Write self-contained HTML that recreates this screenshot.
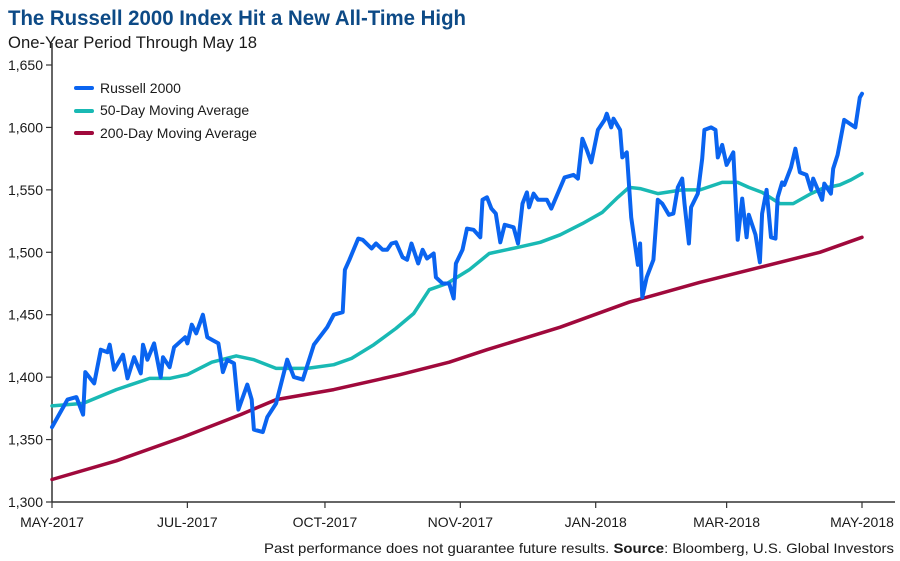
<!DOCTYPE html>
<html><head><meta charset="utf-8"><style>
body{margin:0;background:#fff;}
svg{display:block;font-family:"Liberation Sans",sans-serif;}
</style></head><body>
<svg id="chart" width="900" height="561" viewBox="0 0 900 561">
<text x="8" y="25" font-size="21" font-weight="bold" fill="#0d4a86" textLength="458" lengthAdjust="spacingAndGlyphs">The Russell 2000 Index Hit a New All-Time High</text>
<text x="8" y="48" font-size="17" fill="#1a1a1a" textLength="249" lengthAdjust="spacingAndGlyphs">One-Year Period Through May 18</text>
<g id="axes"></g>
<g id="series"></g>
<g>
<line x1="76" y1="88" x2="92" y2="88" stroke="#0a64f0" stroke-width="4" stroke-linecap="round"/>
<text x="100" y="93" font-size="14" fill="#1a1a1a">Russell 2000</text>
<line x1="76" y1="111" x2="92" y2="111" stroke="#19b9b4" stroke-width="4" stroke-linecap="round"/>
<text x="100" y="115" font-size="14" fill="#1a1a1a">50-Day Moving Average</text>
<line x1="76" y1="133" x2="92" y2="133" stroke="#a0093c" stroke-width="4" stroke-linecap="round"/>
<text x="100" y="138" font-size="14" fill="#1a1a1a">200-Day Moving Average</text>
</g>
<text x="264" y="553" font-size="14" fill="#1a1a1a" textLength="630" lengthAdjust="spacingAndGlyphs">Past performance does not guarantee future results.    <tspan font-weight="bold">Source</tspan>: Bloomberg, U.S. Global Investors</text>
</svg>
<script>
const russellDays=[0,7,11,14,15,19,22,25,26,28,32,34,37,40,41,43,46,49,50,53,55,60,61,63,65,68,70,75,77,79,82,84,88,90,91,95,97,101,106,109,113,118,124,127,131,132,134,138,140,144,146,149,151,153,155,158,160,162,165,167,169,172,173,176,179,181,182,185,187,190,193,194,196,198,200,202,204,208,210,212,214,215,217,219,223,225,231,235,237,239,241,243,246,249,250,252,253,256,257,259,261,264,265,266,268,271,273,275,278,280,282,284,285,287,288,291,293,294,297,299,300,302,304,307,309,311,313,314,317,319,320,322,324,326,327,329,330,333,335,337,340,342,343,347,348,351,352,354,357,362,364,365];
const russellValues=[1360,1382,1384,1370,1404,1395,1422,1420,1426,1406,1418,1399,1416,1403,1426,1414,1427,1400,1416,1408,1424,1432,1427,1442,1435,1450,1432,1427,1404,1414,1411,1374,1394,1382,1358,1356,1368,1379,1414,1400,1398,1426,1440,1450,1452,1486,1494,1511,1510,1503,1507,1502,1502,1507,1508,1496,1494,1507,1491,1502,1495,1499,1480,1475,1475,1463,1491,1502,1519,1518,1512,1542,1544,1535,1531,1508,1522,1520,1507,1539,1548,1536,1547,1542,1542,1535,1560,1562,1559,1591,1582,1572,1598,1606,1611,1600,1607,1598,1576,1580,1528,1490,1507,1464,1480,1494,1542,1539,1530,1531,1552,1559,1539,1507,1536,1547,1575,1598,1600,1598,1576,1586,1570,1580,1510,1543,1512,1530,1514,1492,1531,1550,1512,1511,1544,1556,1554,1568,1583,1564,1562,1550,1559,1542,1555,1547,1567,1578,1606,1600,1624,1627];
const ma50Days=[0,14,29,44,53,61,72,83,91,101,115,127,135,145,155,163,170,178,188,197,210,220,229,239,248,255,260,265,273,284,292,302,309,314,320,328,334,342,347,355,360,365];
const ma50Values=[1377,1379,1390,1399,1399,1402,1412,1417,1414,1407,1407,1410,1415,1426,1439,1451,1470,1475,1486,1499,1504,1508,1514,1523,1532,1544,1552,1551,1547,1550,1550,1556,1556,1552,1548,1539,1539,1547,1551,1554,1558,1563];
const ma200Days=[0,29,59,85,101,127,157,179,196,229,260,292,319,346,365];
const ma200Values=[1318,1333,1352,1370,1382,1390,1402,1412,1422,1440,1460,1476,1488,1500,1512];
const yTicks=[1300,1350,1400,1450,1500,1550,1600,1650];
const xTickDays=[0,61,123,184,245,304,365];
const xTickLabels=["MAY-2017","JUL-2017","OCT-2017","NOV-2017","JAN-2018","MAR-2018","MAY-2018"];

const NS="http://www.w3.org/2000/svg";
const X0=52,X1=862,Y0=502,Y1=65;
function xs(d){return X0+(d/365)*(X1-X0);}
function ys(v){return Y0-(v-1300)/(1650-1300)*(Y0-Y1);}
function mk(tag,attrs,parent){const e=document.createElementNS(NS,tag);for(const k in attrs)e.setAttribute(k,attrs[k]);parent.appendChild(e);return e;}
const axes=document.getElementById('axes');
const ax=mk('line',{x1:X0,y1:Y1-22,x2:X0,y2:Y0,stroke:'#333','stroke-width':1.5},axes);


const bx=mk('line',{x1:X0,y1:Y0,x2:895,y2:Y0,stroke:'#333','stroke-width':1.5},axes);


yTicks.forEach(v=>{
  const t=mk('line',{x1:X0-6,x2:X0,y1:ys(v),y2:ys(v),stroke:'#333','stroke-width':1.2},axes);
  
  
  const l=mk('text',{x:X0-9,y:ys(v)+5,'font-size':14,'text-anchor':'end',fill:'#1a1a1a'},axes);
  l.textContent=v.toLocaleString('en-US');
  
  
});
xTickDays.forEach((d,i)=>{
  const t=mk('line',{x1:xs(d),x2:xs(d),y1:Y0,y2:Y0+6,stroke:'#333','stroke-width':1.2},axes);
  
  
  const l=mk('text',{x:xs(d),y:Y0+25,'font-size':14,'text-anchor':'middle',fill:'#1a1a1a'},axes);
  l.textContent=xTickLabels[i];
  
  
});
const ser=document.getElementById('series');
function line(days,vals,color,w){
  const d=days.map((t,i)=>(i?'L':'M')+xs(t).toFixed(1)+','+ys(vals[i]).toFixed(1)).join('');
  return mk('path',{d:d,fill:'none',stroke:color,'stroke-width':w,'stroke-linejoin':'round','stroke-linecap':'round'},ser);
}
const p3=line(ma200Days,ma200Values,'#a0093c',3.5);


const p2=line(ma50Days,ma50Values,'#19b9b4',3.5);


const p1=line(russellDays,russellValues,'#0a64f0',4);


</script>
</body></html>
